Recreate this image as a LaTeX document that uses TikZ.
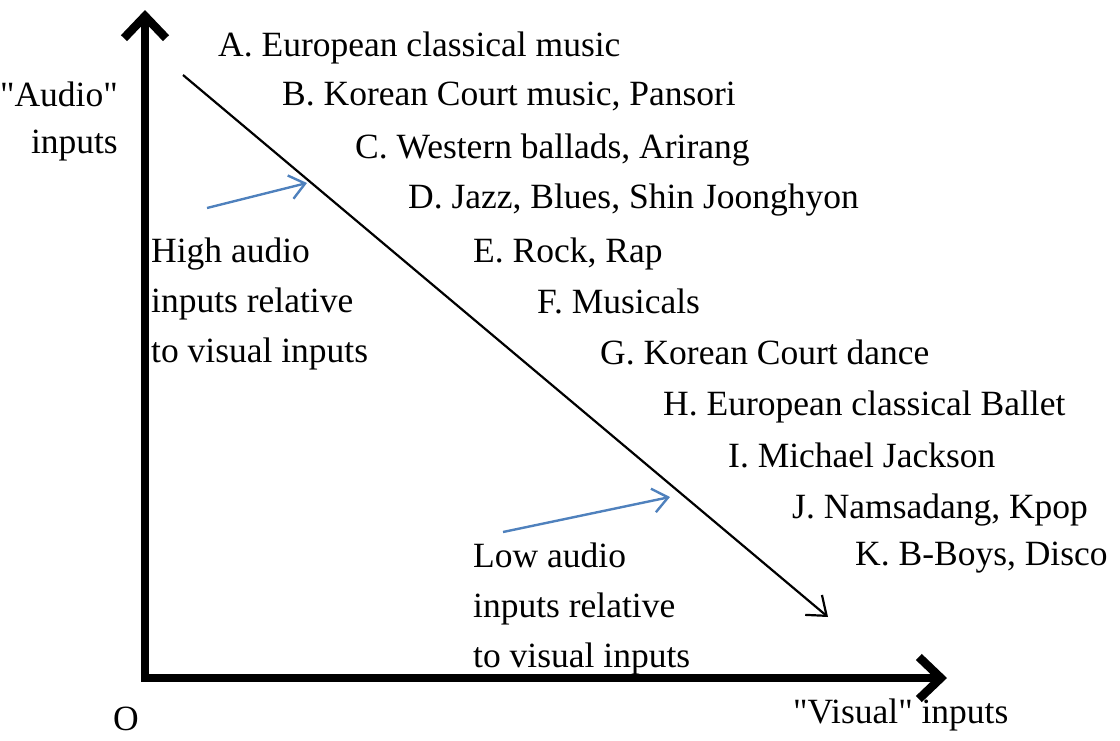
\documentclass[tikz,border=0pt]{standalone}
\usepackage{fontspec}
\setmainfont{Liberation Serif}[Ligatures=TeXOff]
\usetikzlibrary{arrows.meta}
\definecolor{hintblue}{RGB}{79,129,189}

\begin{document}
\begin{tikzpicture}[x=1pt, y=-1pt,
    every node/.style={inner sep=0pt, font=\fontsize{35.5}{50}\selectfont},
    axis/.style={line width=8.5pt, {Straight Barb[length=22pt,width=42pt]}-{Straight Barb[length=22pt,width=42pt]}},
    trend/.style={line width=2.2pt, -{Straight Barb[length=17pt,width=26pt]}},
    hint/.style={hintblue, line width=2.4pt, -{Straight Barb[length=15pt,width=24pt]}}]
    \useasboundingbox (0,0) rectangle (1120,740);
    \coordinate (ytip) at (145,10);
    \coordinate (origin) at (145,678);
    \coordinate (xtip) at (947,678);
    \draw[axis] (ytip) -- (origin) -- (xtip);
    \node[anchor=base east] (audio) at (118,106) {"Audio"};
    \node[anchor=base east] (audioin) at (118,153) {inputs};
    \node[anchor=base] (o) at (126,730) {O};
    \node[anchor=base west] (visual) at (793,723) {"Visual" inputs};
    % genres, from high audio to low audio
    \foreach \x/\y/\t/\n in {218/56/{A. European classical music}/genreA,
        282/105/{B. Korean Court music, Pansori}/genreB,
        355/158/{C. Western ballads, Arirang}/genreC,
        408/208/{D. Jazz, Blues, Shin Joonghyon}/genreD,
        473/262/{E. Rock, Rap}/genreE,
        537/313/{F. Musicals}/genreF,
        600/364/{G. Korean Court dance}/genreG,
        663/415/{H. European classical Ballet}/genreH,
        728/467/{I. Michael Jackson}/genreI,
        792/518/{J. Namsadang, Kpop}/genreJ,
        855/565/{K. B-Boys, Disco}/genreK} {
        \node[anchor=base west] (\n) at (\x,\y) {\t};
    }
    \coordinate (trendtop) at (183,75);
    \coordinate (trendbot) at (828,617);
    \draw[trend] (trendtop) -- (trendbot);
    % base of a multi-line node is its last line
    \node[anchor=base west, align=left] (high) at (151,362) {High audio\\inputs relative\\to visual inputs};
    \node[anchor=base west, align=left] (low) at (473,667) {Low audio\\inputs relative\\to visual inputs};
    \coordinate (higha) at (207,208);
    \coordinate (highb) at (307,183);
    \coordinate (lowa) at (503,532);
    \coordinate (lowb) at (670,497);
    \draw[hint] (higha) -- (highb);
    \draw[hint] (lowa) -- (lowb);
\end{tikzpicture}
\end{document}
